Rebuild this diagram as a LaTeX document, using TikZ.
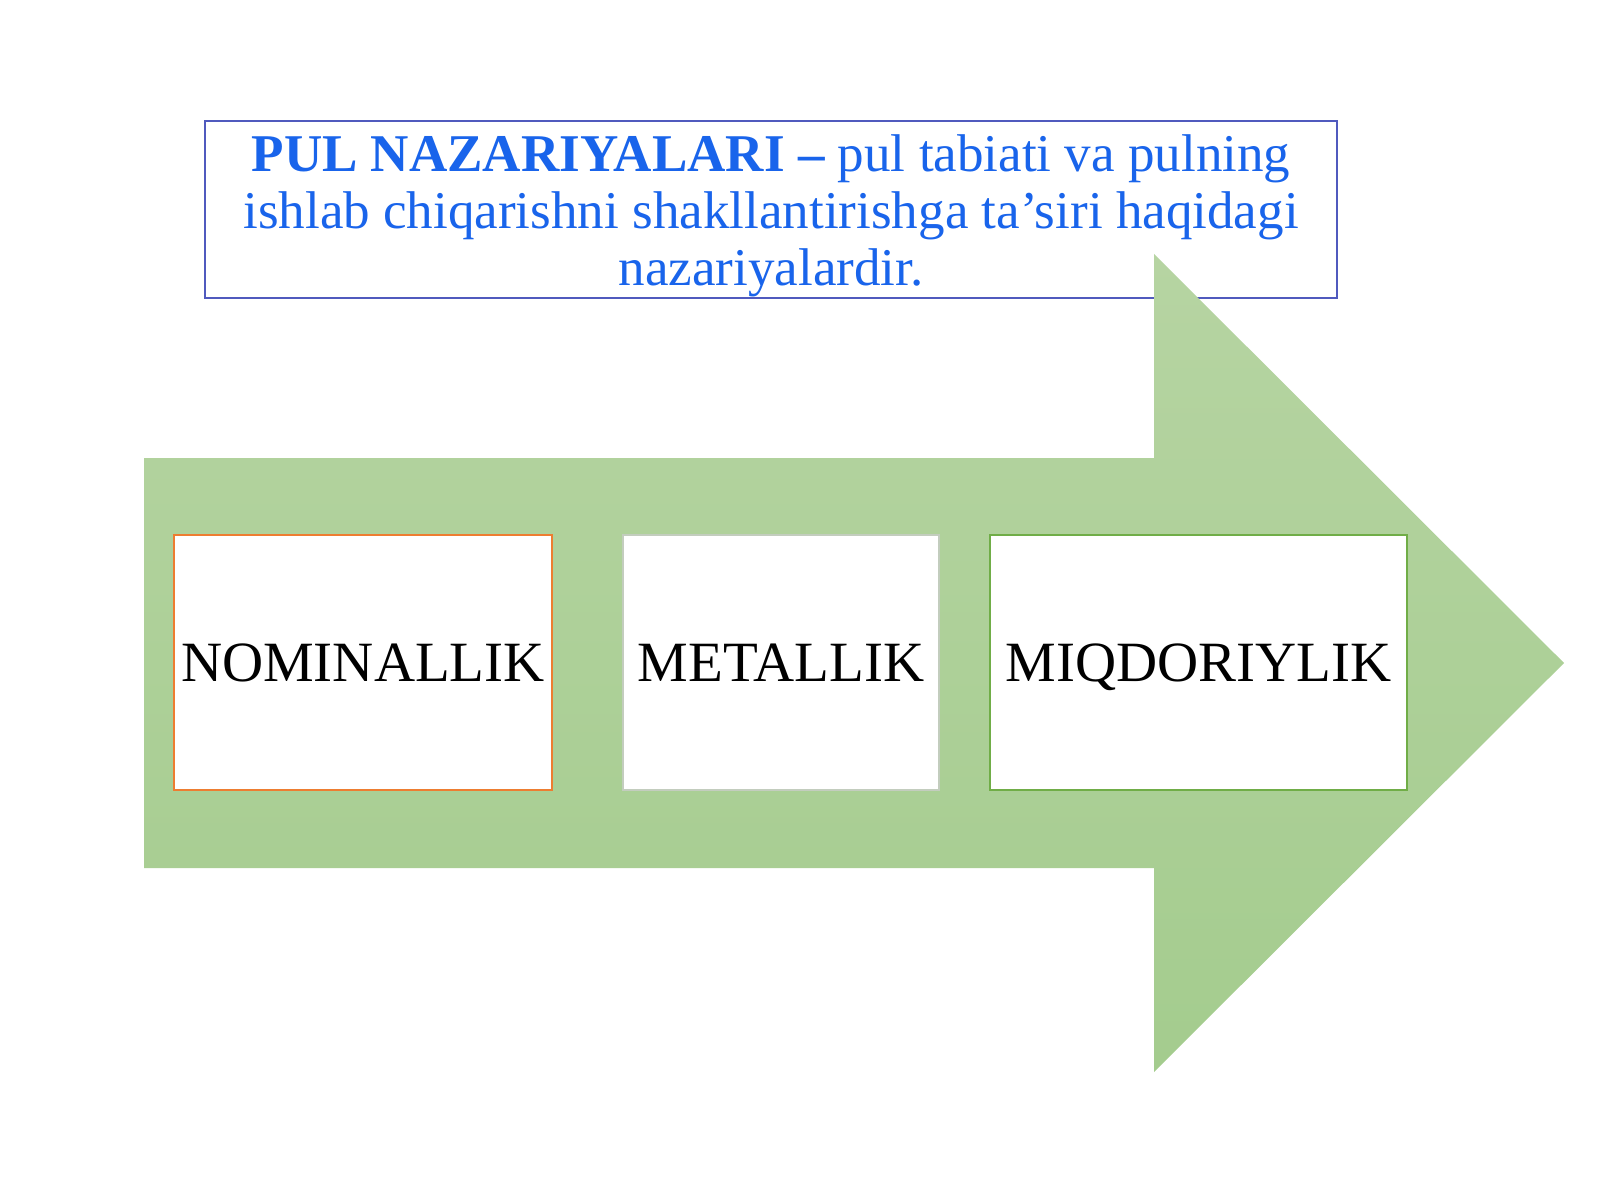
\documentclass[tikz,border=0pt]{standalone}
\usepackage{fontspec}
\setmainfont{Liberation Serif}
\definecolor{arrowtop}{RGB}{182,212,162}
\definecolor{arrowbot}{RGB}{164,204,142}
\definecolor{titleblue}{RGB}{25,100,235}
\definecolor{framebl}{RGB}{80,90,190}
\definecolor{nomcol}{RGB}{237,125,49}
\definecolor{metcol}{RGB}{195,205,190}
\definecolor{miqcol}{RGB}{112,173,71}
\tikzset{
  theory/.style={fill=white, line width=0.6pt, minimum height=2.55cm,
    inner sep=0pt, text height=10.7pt, text depth=0pt,
    font=\fontsize{16.2}{18}\selectfont},
}
\begin{document}
\begin{tikzpicture}[]
            \useasboundingbox (0,0) rectangle (16,12);
            % Frame of the definition
            \draw [framebl, line width=0.6pt, fill=white] (2.05,9.02) rectangle (13.37,10.79);
            % The big green arrow
            \shade [top color=arrowtop, bottom color=arrowbot]
              (1.44,3.32) -- (1.44,7.42) -- (11.54,7.42) -- (11.54,9.46)
              -- (15.64,5.37) -- (11.54,1.28) -- (11.54,3.32) -- cycle;
            % Definition text
            \node [text width=11.32cm, align=flush center, inner sep=0pt, text=titleblue,
              font=\fontsize{15.1}{16.3}\selectfont] (title) at (7.71,9.84)
              {\textbf{PUL NAZARIYALARI –} pul tabiati va pulning\\
               ishlab chiqarishni shakllantirishga ta’siri haqidagi\\
               nazariyalardir.};
            % The three theories
            \foreach \name/\lab/\col/\x/\w in {
              nom/NOMINALLIK/nomcol/3.63/3.78,
              met/METALLIK/metcol/7.81/3.16,
              miq/MIQDORIYLIK/miqcol/11.985/4.17} {
              \node [theory, draw=\col, minimum width=\w cm] (\name) at (\x,5.375) {\lab};
            }
        \end{tikzpicture}
\end{document}
